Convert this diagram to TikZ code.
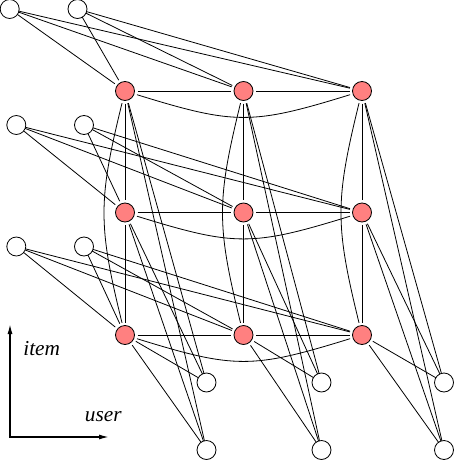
\documentclass[tikz,border=0pt]{standalone}
\usepackage{fontspec}
\setmainfont{Liberation Serif}
\usetikzlibrary{arrows.meta}
\definecolor{nodered}{RGB}{255,128,128}
\begin{document}
\begin{tikzpicture}[x=1pt,y=-1pt,
  edge/.style={line width=0.8pt},
  rnode/.style={circle, draw, line width=0.8pt, fill=nodered, minimum size=19pt, inner sep=0pt, outer sep=3pt},
  wnode/.style={circle, draw, line width=0.8pt, fill=white, minimum size=19pt, inner sep=0pt, outer sep=0pt},
  axis/.style={line width=1.8pt, {Latex[length=11pt,width=5pt]}-{Latex[length=11pt,width=5pt]}},
  lbl/.style={font=\fontsize{21.3}{21.3}\selectfont\itshape, inner sep=0pt}
]
\useasboundingbox (0,0) rectangle (454,460);
% red grid nodes
\foreach \c/\x in {1/125,2/243.5,3/362}
  \foreach \r/\y in {1/91,2/212.5,3/335}
    \node[rnode] (R\c\r) at (\x,\y) {};
% left white nodes
\node[wnode] (La1) at (9.7,9) {};
\node[wnode] (Lb1) at (77.5,9) {};
\node[wnode] (La2) at (16.3,125) {};
\node[wnode] (Lb2) at (84,125) {};
\node[wnode] (La3) at (16.3,246.5) {};
\node[wnode] (Lb3) at (84,246.5) {};
% bottom white nodes
\foreach \c/\x in {1/206.5,2/321.5,3/444}{
  \node[wnode] (Ba\c) at (\x,382.5) {};
  \node[wnode] (Bb\c) at (\x,450) {};
}
% edges from left whites to each row
\foreach \r in {1,2,3}
  \foreach \c in {1,2,3}{
    \draw[edge] (La\r) -- (R\c\r);
    \draw[edge] (Lb\r) -- (R\c\r);
  }
% edges from bottom whites to each column
\foreach \c in {1,2,3}
  \foreach \r in {1,2,3}{
    \draw[edge] (Ba\c) -- (R\c\r);
    \draw[edge] (Bb\c) -- (R\c\r);
  }
% row connections
\foreach \r in {1,2,3}{
  \draw[edge] (R1\r) -- (R2\r);
  \draw[edge] (R2\r) -- (R3\r);
  \draw[edge] (R1\r) .. controls +(110,34) and +(-110,34) .. (R3\r);
}
% column connections
\foreach \c in {1,2,3}{
  \draw[edge] (R\c1) -- (R\c2);
  \draw[edge] (R\c2) -- (R\c3);
  \draw[edge] (R\c1) .. controls +(-27,110) and +(-27,-110) .. (R\c3);
}
% axes
\coordinate (O) at (10,437);
\coordinate (Ytip) at (10,323);
\coordinate (Xtip) at (110,437);
\draw[axis] (Ytip) -- (O) -- (Xtip);
\node[lbl, anchor=base] (itemlbl) at (41.7,355) {item};
\node[lbl, anchor=base] (userlbl) at (103.3,421.7) {user};
\end{tikzpicture}
\end{document}
